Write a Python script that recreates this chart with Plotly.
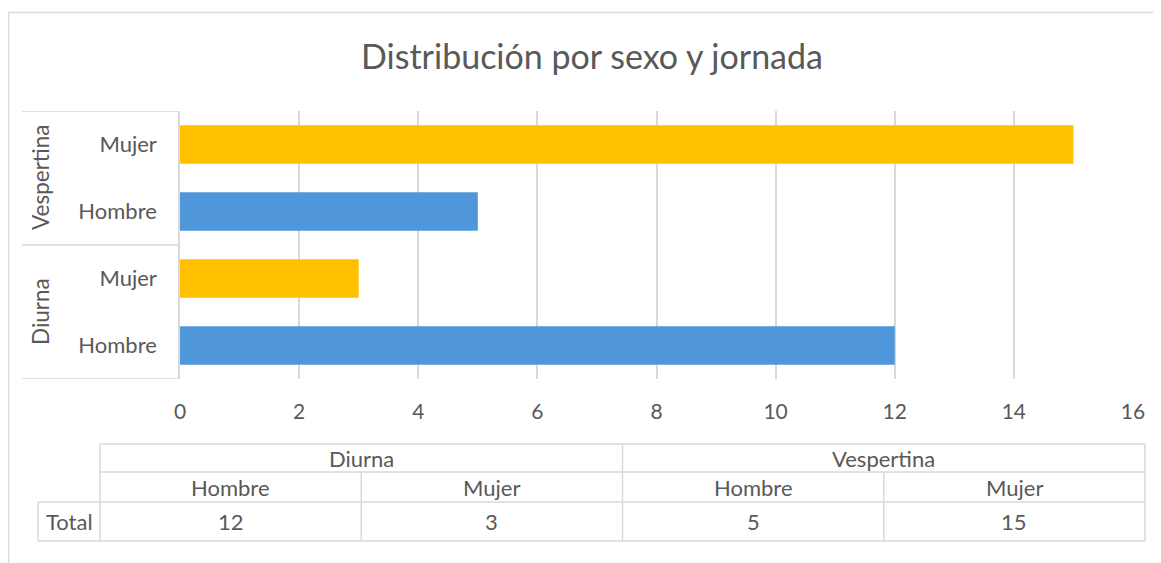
import plotly.graph_objects as go

# ---- data ----
jornadas = ["Diurna", "Diurna", "Vespertina", "Vespertina"]
sexos = ["Hombre", "Mujer", "Hombre", "Mujer"]
totales = [12, 3, 5, 15]
grupos = ["Diurna", "Vespertina"]
x_ticks = [0, 2, 4, 6, 8, 10, 12, 14, 16]
titulo = "Distribución por sexo y jornada"
fila_label = "Total"

# ---- style ----
FONT = "Lato"
TXT = "#595959"
GRID = "#d9d9d9"
color_sexo = {"Hombre": "#4F96DA", "Mujer": "#FFC000"}

OFF = 8  # page body margin in the browser
WIN_W, WIN_H = 1161, 563
W, H = WIN_W - OFF, WIN_H - OFF
# plot area in window pixels
L, R, T, B = 180, 1133, 111, 379

def px(x):
    return (x - L) / (R - L)

def py(y):
    return (B - y) / (B - T)

cats = [f"{j} · {s}" for j, s in zip(jornadas, sexos)]

fig = go.Figure()
fig.add_trace(go.Bar(
    x=totales, y=cats, orientation="h",
    marker=dict(color=[color_sexo[s] for s in sexos], line=dict(width=0)),
    hoverinfo="x+y", showlegend=False,
))

shapes = []
annotations = []
line = dict(color=GRID, width=1.5)

# left category axis: group separators
for yb in [-0.5, 1.5, 3.5]:
    shapes.append(dict(type="line", xref="paper", yref="y",
                       x0=px(22), x1=0, y0=yb, y1=yb, line=line, layer="below"))
# group labels
for g in grupos:
    idx = [i for i, j in enumerate(jornadas) if j == g]
    annotations.append(dict(text=g, xref="paper", yref="y",
                            x=px(40), y=sum(idx) / len(idx), textangle=-90,
                            showarrow=False, xanchor="center", yanchor="middle",
                            font=dict(family=FONT, size=22.5, color=TXT)))

# chart outer border
shapes.append(dict(type="line", xref="paper", yref="paper",
                   x0=px(8.5), x1=px(WIN_W + 20), y0=py(12.5), y1=py(12.5), line=line))
shapes.append(dict(type="line", xref="paper", yref="paper",
                   x0=px(8.5), x1=px(8.5), y0=py(12.5), y1=py(WIN_H + 20), line=line))

# ---- data table ----
tx0, tx1 = 100, 1145
lab_x0 = 38
ry = [444, 472, 502, 541]
ncol = len(totales)
colw = (tx1 - tx0) / ncol
cx = [tx0 + colw * i for i in range(ncol + 1)]

def hline(x0, x1, y):
    shapes.append(dict(type="line", xref="paper", yref="paper",
                       x0=px(x0), x1=px(x1), y0=py(y), y1=py(y), line=line))

def vline(x, y0, y1):
    shapes.append(dict(type="line", xref="paper", yref="paper",
                       x0=px(x), x1=px(x), y0=py(y0), y1=py(y1), line=line))

hline(tx0, tx1, ry[0])
hline(tx0, tx1, ry[1])
hline(lab_x0, tx1, ry[2])
hline(lab_x0, tx1, ry[3])
vline(lab_x0, ry[2], ry[3])
vline(tx0, ry[0], ry[3])
vline(tx1, ry[0], ry[3])
for i in range(1, ncol):
    if jornadas[i] != jornadas[i - 1]:
        vline(cx[i], ry[0], ry[3])
    else:
        vline(cx[i], ry[1], ry[3])

def cell_text(text, x, y):
    annotations.append(dict(text=str(text), xref="paper", yref="paper",
                            x=px(x), y=py(y), showarrow=False,
                            xanchor="center", yanchor="middle",
                            font=dict(family=FONT, size=22, color=TXT)))

for g in grupos:
    idx = [i for i, j in enumerate(jornadas) if j == g]
    cell_text(g, (cx[idx[0]] + cx[idx[-1] + 1]) / 2, (ry[0] + ry[1]) / 2)
for i in range(ncol):
    cell_text(sexos[i], (cx[i] + cx[i + 1]) / 2, (ry[1] + ry[2]) / 2)
    cell_text(totales[i], (cx[i] + cx[i + 1]) / 2, (ry[2] + ry[3]) / 2)
cell_text(fila_label, (lab_x0 + tx0) / 2, (ry[2] + ry[3]) / 2)

fig.update_layout(
    width=W, height=H,
    margin=dict(l=L - OFF, r=WIN_W - R, t=T - OFF, b=WIN_H - B, pad=0),
    paper_bgcolor="white", plot_bgcolor="white",
    bargap=0.425,
    title=dict(text=titulo, x=(592 - OFF) / W, xanchor="center",
               y=1 - (57 - OFF) / H, yanchor="middle", yref="container",
               font=dict(family=FONT, size=34, color=TXT)),
    xaxis=dict(range=[0, 16], tickvals=x_ticks, ticktext=[str(v) for v in x_ticks],
               showgrid=True, gridcolor=GRID, gridwidth=1.5,
               zeroline=False, showline=False, ticks="",
               ticklabelstandoff=18,
               tickfont=dict(family=FONT, size=21, color=TXT)),
    yaxis=dict(type="category", categoryorder="array", categoryarray=cats,
               tickvals=cats, ticktext=sexos, range=[-0.5, 3.5],
               showgrid=False, zeroline=False, showline=True,
               linecolor=GRID, linewidth=1.5, ticks="",
               ticklabelstandoff=17,
               tickfont=dict(family=FONT, size=22, color=TXT)),
    shapes=shapes, annotations=annotations,
    font=dict(family=FONT, color=TXT),
)

fig.write_html("out.html")
